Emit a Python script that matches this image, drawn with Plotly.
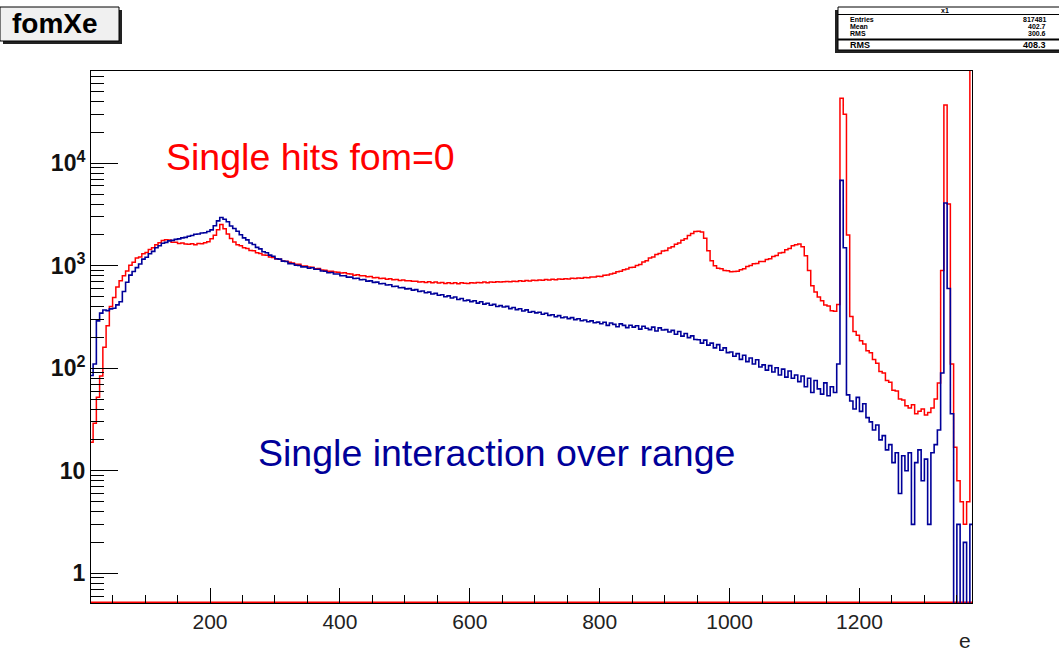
import numpy as np
import plotly.graph_objects as go

# ---------------------------------------------------------------- data
# 5-unit energy bins, lower edges 15 ... 1370
BIN_WIDTH = 5
bin_low = np.arange(15, 1375, BIN_WIDTH)

# "Single hits fom=0" spectrum (red), counts per bin
fom0_counts = [
    19, 29, 52, 84, 160, 260, 400,                                  # 15-45
    490, 620, 715, 800, 890, 1010, 1080, 1190, 1220, 1310,          # 50-95
    1350, 1440, 1500, 1600, 1680, 1760, 1790, 1780, 1700, 1695,     # 100-145
    1650, 1665, 1630, 1620, 1640, 1605, 1645, 1640, 1680, 1715,     # 150-195
    1830, 1990, 2250, 2520, 2290, 2040, 1840, 1710, 1600, 1570,     # 200-245
    1500, 1470, 1410, 1400, 1340, 1320, 1270, 1265, 1215, 1205,     # 250-295
    1165, 1155, 1115, 1105, 1080, 1065, 1035, 1035, 995, 995,       # 300-345
    970, 965, 935, 940, 910, 905, 885, 885, 870, 865,               # 350-395
    850, 855, 835, 830, 810, 815, 800, 800, 780, 785,               # 400-445
    765, 770, 750, 755, 740, 745, 730, 735, 720, 725,               # 450-495
    715, 715, 705, 705, 695, 700, 688, 698, 682, 693,               # 500-545
    678, 688, 672, 684, 670, 683, 668, 682, 676, 672,               # 550-595
    684, 678, 688, 681, 693, 684, 694, 690, 697, 694,               # 600-645
    697, 703, 698, 708, 703, 713, 707, 718, 712, 722,               # 650-695
    718, 728, 722, 733, 727, 738, 732, 743, 738, 748,               # 700-745
    744, 754, 750, 760, 757, 768, 766, 778, 776, 788,               # 750-795
    787, 806, 812, 833, 846, 873, 885, 915, 928, 960,               # 800-845
    968, 1008, 1030, 1090, 1118, 1190, 1220, 1290, 1318, 1392,      # 850-895
    1410, 1492, 1530, 1622, 1668, 1775, 1838, 1975, 2060, 2160,     # 900-945
    2170, 2130, 1850, 1400, 1120, 1000, 948, 935, 897, 892,         # 950-995
    876, 880, 886, 915, 935, 985, 1005, 1048, 1055, 1098,           # 1000-1045
    1102, 1148, 1172, 1230, 1258, 1332, 1350, 1432, 1470, 1570,     # 1050-1095
    1600, 1630, 1530, 1250, 900, 640, 555, 495, 455, 415,           # 1100-1145
    405, 365, 360, 420, 43000, 30000, 2000, 320, 228, 210,          # 1150-1195
    186, 172, 148, 142, 122, 112, 93, 90, 76, 73,                   # 1200-1245
    61, 60, 50, 49, 43, 41, 44, 36, 38, 40,                         # 1250-1295
    35, 37, 41, 50, 72, 900, 37000, 4000, 110, 17,                  # 1300-1345
    8, 5, 3, 5, 1000000,                                            # 1350-1370
]

# "Single interaction over range" spectrum (blue), counts per bin
single_counts = [
    85, 110, 290, 345, 370, 365, 380,                               # 15-45
    385, 415, 445, 560, 690, 810, 880, 960, 1040, 1160,             # 50-95
    1210, 1310, 1380, 1500, 1570, 1660, 1690, 1750, 1770, 1810,     # 100-145
    1830, 1870, 1890, 1940, 1970, 2030, 2040, 2090, 2100, 2160,     # 150-195
    2240, 2460, 2740, 2960, 2840, 2690, 2440, 2310, 2170, 2010,     # 200-245
    1870, 1790, 1670, 1610, 1510, 1460, 1370, 1340, 1270, 1240,     # 250-295
    1170, 1160, 1110, 1100, 1050, 1045, 1010, 1005, 975, 975,       # 300-345
    945, 955, 925, 925, 890, 885, 855, 860, 830, 830,               # 350-395
    800, 800, 775, 775, 750, 755, 730, 735, 708, 712,               # 400-445
    688, 692, 668, 672, 648, 652, 628, 632, 610, 612,               # 450-495
    595, 598, 578, 585, 560, 568, 545, 553, 530, 538,               # 500-545
    515, 522, 498, 508, 485, 495, 468, 480, 455, 462,               # 550-595
    447, 456, 432, 445, 422, 431, 412, 420, 401, 408,               # 600-645
    396, 402, 382, 392, 373, 381, 362, 371, 352, 358,               # 650-695
    347, 352, 336, 344, 328, 333, 318, 326, 311, 316,               # 700-745
    305, 312, 298, 304, 291, 296, 284, 290, 278, 282,               # 750-795
    272, 281, 262, 276, 268, 254, 271, 262, 249, 263,               # 800-845
    252, 260, 241, 257, 246, 238, 252, 231, 248, 236,               # 850-895
    238, 226, 234, 215, 228, 206, 218, 199, 207, 191,               # 900-945
    190, 176, 188, 168, 176, 158, 170, 150, 158, 142,               # 950-995
    144, 131, 139, 122, 134, 116, 126, 110, 121, 103,               # 1000-1045
    108, 96, 106, 92, 101, 86, 98, 82, 94, 80,                      # 1050-1095
    86, 74, 84, 66, 80, 58, 76, 63, 56, 72,                         # 1100-1145
    54, 66, 58, 110, 6800, 1500, 55, 48, 40, 52,                    # 1150-1195
    38, 45, 33, 30, 25, 28, 20, 22, 16, 18,                         # 1200-1245
    12, 15, 6, 14, 10, 15, 3, 12, 16, 8,                            # 1250-1295
    13, 3, 15, 18, 25, 90, 4100, 600, 36, 0,                        # 1300-1345
    3, 0, 2, 0, 3,                                                  # 1350-1370
]

assert len(fom0_counts) == len(bin_low) == len(single_counts)

# axis settings
X_RANGE = [16.75, 1373.3]
LOG_Y_RANGE = [-0.29, 4.90]
y_major = [1, 10, 100, 1000, 10000]
y_major_text = ["1", "10", "10<sup>2</sup>", "10<sup>3</sup>", "10<sup>4</sup>"]
y_minor = [m * 10 ** d for d in range(-1, 5) for m in range(2, 10)]

# stats panel entries
stats_title = "x1"
stats_rows = [("Entries", "817481"), ("Mean", "402.7"), ("RMS", "300.6")]
stats_hidden_row = ("RMS", "408.3")

RED = "#ff0000"
BLUE = "#000099"
FLOOR = 0.1  # empty bins drop below the log axis


def step_xy(counts):
    """Histogram outline: lower edges plus the final upper edge."""
    c = np.asarray(counts, dtype=float)
    c = np.where(c > 0, c, FLOOR)
    x = np.append(bin_low, bin_low[-1] + BIN_WIDTH)
    y = np.append(c, c[-1])
    return x, y


fig = go.Figure()

# zero-level line of the red histogram along the frame bottom
fig.add_trace(go.Scatter(
    x=X_RANGE, y=[10 ** (LOG_Y_RANGE[0] + 0.006)] * 2, mode="lines",
    line=dict(color=RED, width=2), hoverinfo="skip", showlegend=False))

rx, ry = step_xy(fom0_counts)
fig.add_trace(go.Scatter(x=rx, y=ry, mode="lines", line_shape="hv",
                         line=dict(color=RED, width=1.5),
                         name="Single hits fom=0", showlegend=False))
bx, by = step_xy(single_counts)
fig.add_trace(go.Scatter(x=bx, y=by, mode="lines", line_shape="hv",
                         line=dict(color=BLUE, width=1.6),
                         name="Single interaction over range", showlegend=False))

# invisible trace carrying the minor log ticks axis
fig.add_trace(go.Scatter(x=[X_RANGE[0]], y=[1], yaxis="y2", mode="markers",
                         marker=dict(opacity=0), hoverinfo="skip", showlegend=False))

L, R, T, B = 91, 87, 71, 52
W, H = 1059, 655
PW, PH = W - L - R, H - T - B


def px(xp):
    return (xp - L) / PW


def py(yp):
    return (H - B - yp) / PH


fig.update_layout(
    width=W, height=H,
    margin=dict(l=L, r=R, t=T, b=B),
    paper_bgcolor="white", plot_bgcolor="white",
    font=dict(family="Liberation Sans, Arial, sans-serif", color="black"),
    xaxis=dict(
        range=X_RANGE, showgrid=False, zeroline=False,
        showline=True, linecolor="black", linewidth=1, mirror=True,
        ticks="inside", ticklen=15, tickcolor="black", tickwidth=1,
        tick0=0, dtick=200,
        minor=dict(ticks="inside", ticklen=8, tickcolor="black", dtick=50, tick0=0),
        tickfont=dict(size=21, color="#222222"),
    ),
    yaxis=dict(
        type="log", range=LOG_Y_RANGE, showgrid=False, zeroline=False,
        showline=True, linecolor="black", linewidth=1, mirror=True,
        ticks="inside", ticklen=27, tickcolor="black", tickwidth=1,
        tickvals=y_major, ticktext=y_major_text,
        tickfont=dict(size=23, color="#111111", weight="bold"),
    ),
    yaxis2=dict(
        type="log", range=LOG_Y_RANGE, overlaying="y", side="left", anchor="x",
        showgrid=False, zeroline=False, showline=False,
        ticks="inside", ticklen=13, tickcolor="black", tickwidth=1,
        tickvals=y_minor, showticklabels=False,
    ),
)

shapes = []
annotations = []

# title box with drop shadow
shapes.append(dict(type="rect", xref="paper", yref="paper", layer="above",
                   x0=px(3), x1=px(122), y0=py(44), y1=py(10),
                   fillcolor="#222222", line=dict(width=0)))
shapes.append(dict(type="rect", xref="paper", yref="paper", layer="above",
                   x0=px(0), x1=px(119), y0=py(41), y1=py(7),
                   fillcolor="#f0f0f0", line=dict(color="black", width=1)))
annotations.append(dict(xref="paper", yref="paper", x=px(55), y=py(24),
                        text="fomXe", showarrow=False, xanchor="center", yanchor="middle",
                        font=dict(size=28, weight="bold", color="black")))

# statistics panel
shapes.append(dict(type="rect", xref="paper", yref="paper", layer="above",
                   x0=px(835), x1=px(1062), y0=py(53), y1=py(10),
                   fillcolor="#222222", line=dict(width=0)))
shapes.append(dict(type="rect", xref="paper", yref="paper", layer="above",
                   x0=px(838), x1=px(1062), y0=py(50), y1=py(7),
                   fillcolor="white", line=dict(color="black", width=1)))
shapes.append(dict(type="line", xref="paper", yref="paper", layer="above",
                   x0=px(838), x1=px(1062), y0=py(14.5), y1=py(14.5),
                   line=dict(color="black", width=1)))
shapes.append(dict(type="line", xref="paper", yref="paper", layer="above",
                   x0=px(838), x1=px(1062), y0=py(39.5), y1=py(39.5),
                   line=dict(color="black", width=2)))
annotations.append(dict(xref="paper", yref="paper", x=px(945), y=py(10.8),
                        text=stats_title, showarrow=False, xanchor="center",
                        yanchor="middle", font=dict(size=7, weight="bold")))
for i, (k, v) in enumerate(stats_rows):
    yy = py(19.5 + 7 * i)
    annotations.append(dict(xref="paper", yref="paper", x=px(848), y=yy, text=k,
                            showarrow=False, xanchor="left", yanchor="middle",
                            font=dict(size=7, weight="bold")))
    annotations.append(dict(xref="paper", yref="paper", x=px(1048), y=yy, text=v,
                            showarrow=False, xanchor="right", yanchor="middle",
                            font=dict(size=7, weight="bold")))
annotations.append(dict(xref="paper", yref="paper", x=px(848), y=py(44.5),
                        text=stats_hidden_row[0], showarrow=False, xanchor="left",
                        yanchor="middle", font=dict(size=9, weight="bold")))
annotations.append(dict(xref="paper", yref="paper", x=px(1048), y=py(44.5),
                        text=stats_hidden_row[1], showarrow=False, xanchor="right",
                        yanchor="middle", font=dict(size=9, weight="bold")))

# curve captions
annotations.append(dict(xref="paper", yref="paper", x=px(164), y=py(157),
                        text="Single hits fom=0", showarrow=False,
                        xanchor="left", yanchor="middle",
                        font=dict(size=37.5, color=RED)))
annotations.append(dict(xref="paper", yref="paper", x=px(256), y=py(453),
                        text="Single interaction over range", showarrow=False,
                        xanchor="left", yanchor="middle",
                        font=dict(size=37.5, color=BLUE)))

# x axis title
annotations.append(dict(xref="paper", yref="paper", x=px(965), y=py(640),
                        text="e", showarrow=False, xanchor="center", yanchor="middle",
                        font=dict(size=21, color="#222222")))

fig.update_layout(shapes=shapes, annotations=annotations)
fig.write_html("out.html")
